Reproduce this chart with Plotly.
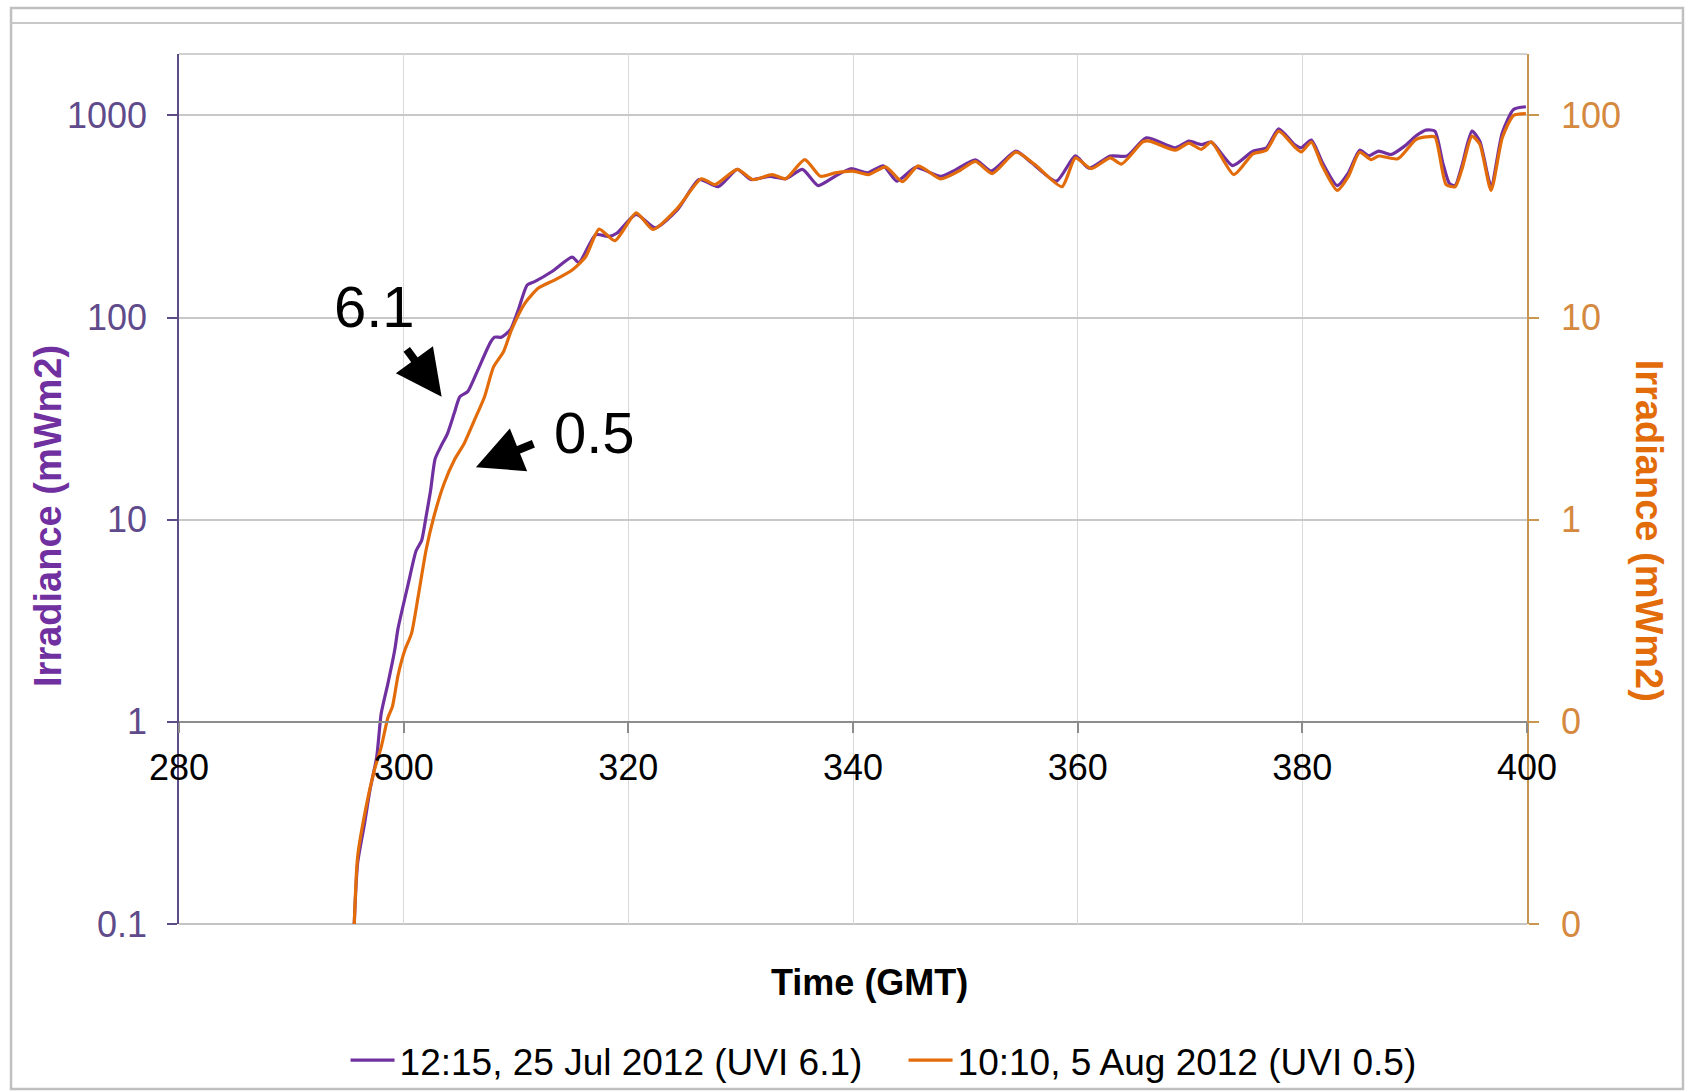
import numpy as np
import plotly.graph_objects as go

# ---------------- data ----------------
x_jul = [295.6, 295.9, 296.5, 297.0, 297.6, 298.0, 298.6, 299.2, 299.5, 300.4, 301.1, 301.6,
         302.0, 302.4, 302.8, 303.3, 303.9, 304.5, 305.0, 305.7, 306.6, 307.7, 308.1, 308.7,
         309.5, 310.2, 311.0, 311.7, 313.2, 315.0, 315.6, 317.1, 318.3, 319.0, 320.7, 322.4,
         324.4, 326.3, 328.0, 329.7, 330.9, 332.6, 334.0, 335.5, 336.9, 338.4, 339.8, 341.3,
         342.7, 343.9, 345.6, 347.8, 349.2, 350.9, 352.3, 354.5, 355.9, 358.1, 359.8, 361.0,
         362.9, 364.4, 366.1, 368.7, 369.9, 371.0, 371.9, 373.8, 375.6, 376.8, 377.9, 379.3,
         379.9, 380.8, 381.8, 383.1, 384.1, 385.1, 385.9, 386.8, 387.9, 389.1, 390.1, 391.0,
         391.8, 392.5, 393.1, 393.6, 394.2, 395.1, 395.8, 396.8, 397.8, 398.8, 399.9]
y_jul = [0.1, 0.2, 0.31, 0.46, 0.67, 1.1, 1.55, 2.26, 2.9, 4.8, 7.0, 7.9,
         10.4, 14.0, 20, 23, 26.7, 33.6, 40.6, 43, 55, 75, 80, 80,
         87, 109, 145, 151, 169, 199, 187, 257, 252, 262, 324, 278,
         343, 482, 444, 541, 482, 500, 486, 541, 450, 500, 545, 520,
         563, 473, 553, 500, 541, 603, 531, 666, 583, 473, 631, 548,
         630, 630, 775, 692, 746, 718, 738, 565, 666, 692, 859, 718,
         692, 755, 583, 450, 520, 673, 631, 666, 641, 705, 791, 846,
         836, 583, 460, 450, 562, 836, 746, 447, 820, 1071, 1104]

x_aug = [295.6, 295.9, 296.6, 297.4, 298.0, 298.6, 299.0, 299.5, 300.1, 300.7, 301.3, 302.0,
         302.7, 303.6, 304.5, 305.4, 306.3, 307.2, 308.0, 308.9, 309.6, 310.8, 312.0, 313.5,
         315.0, 316.2, 317.4, 318.8, 320.7, 322.2, 324.4, 326.5, 327.7, 329.7, 331.1, 332.8,
         334.0, 335.7, 337.1, 338.4, 340.0, 341.4, 342.9, 344.4, 345.8, 347.8, 349.4, 350.9,
         352.4, 354.5, 356.2, 358.6, 359.8, 361.2, 362.9, 363.9, 365.8, 366.4, 368.7, 369.9,
         371.0, 371.9, 373.9, 375.6, 376.8, 377.9, 379.3, 379.9, 380.8, 381.8, 383.1, 384.1,
         385.1, 386.1, 386.8, 388.5, 390.1, 391.0, 391.8, 392.8, 393.6, 394.2, 395.1, 395.8,
         396.8, 397.8, 398.8, 399.9]
y_aug = [0.01, 0.0215, 0.0366, 0.058, 0.075, 0.105, 0.119, 0.17, 0.226, 0.274, 0.42, 0.71,
         1.04, 1.51, 1.97, 2.39, 3.11, 4.06, 5.7, 6.8, 8.7, 11.8, 14.0, 15.4,
         17.2, 20.0, 27.4, 24.0, 33.0, 27.3, 34.9, 48.6, 45.5, 54.1, 48.2, 51.0,
         48.6, 60.5, 50.0, 52.0, 53.0, 51.0, 55.7, 47.0, 56.3, 48.6, 53.0, 59.3,
         51.6, 65.8, 57.1, 44.4, 61.7, 54.5, 61.7, 57.5, 74.1, 74.7, 67.3, 73.0,
         68.0, 73.8, 51.0, 64.6, 67.3, 83.6, 70.0, 66.0, 73.8, 56.0, 42.6, 50.0,
         65.8, 60.5, 63.0, 61.0, 76.0, 78.3, 78.3, 45.5, 44.4, 54.0, 79.0, 72.0,
         42.6, 77.6, 100.0, 102.0]

series_names = ["12:15, 25 Jul 2012 (UVI 6.1)", "10:10, 5 Aug 2012 (UVI 0.5)"]
x_ticks = [280, 300, 320, 340, 360, 380, 400]
left_ticks = [0.1, 1, 10, 100, 1000]
left_labels = ["0.1", "1", "10", "100", "1000"]
right_ticks = [0.01, 0.1, 1, 10, 100]
right_labels = ["0", "0", "1", "10", "100"]

# ---------------- style ----------------
PURPLE = "#7030A0"
ORANGE = "#E36C0A"
FONT = "Liberation Sans, Arial, sans-serif"

fig = go.Figure()
fig.add_trace(go.Scatter(x=x_jul, y=y_jul, name=series_names[0], mode="lines",
                         line=dict(color=PURPLE, width=3.2, shape="spline", smoothing=0.6),
                         yaxis="y"))
fig.add_trace(go.Scatter(x=x_aug, y=y_aug, name=series_names[1], mode="lines",
                         line=dict(color=ORANGE, width=3.2, shape="spline", smoothing=0.6),
                         yaxis="y2"))

yl_range = [-1, 3.304]
x_axis_pos = (0 - yl_range[0]) / (yl_range[1] - yl_range[0])

fig.update_layout(
    width=1692, height=1091,
    margin=dict(l=179, r=165, t=54, b=167, pad=0, autoexpand=False),
    plot_bgcolor="white", paper_bgcolor="white",
    font=dict(family=FONT, size=36, color="black"),
    showlegend=True,
    legend=dict(orientation="h", x=0.5375, xanchor="center", y=-0.157, yanchor="middle",
                font=dict(size=37, color="black"), bgcolor="rgba(0,0,0,0)",
                entrywidth=499, entrywidthmode="pixels", itemwidth=44, tracegroupgap=0),
    xaxis=dict(range=[280, 400], tickvals=x_ticks, anchor="free", position=x_axis_pos,
               showline=True, linecolor="#8C8C8C", linewidth=1.5,
               ticks="outside", ticklen=10, tickcolor="#8C8C8C", tickwidth=1.5,
               tickfont=dict(size=36, color="black"), ticklabelstandoff=4,
               showgrid=True, gridcolor="#D9D9D9", gridwidth=1.2, zeroline=False),
    yaxis=dict(type="log", range=yl_range, tickvals=left_ticks, ticktext=left_labels,
               showline=True, linecolor="#5E4C86", linewidth=1.5,
               ticks="outside", ticklen=10, tickcolor="#5E4C86", tickwidth=1.5,
               tickfont=dict(size=36, color="#5F4B8B"), ticklabelstandoff=13,
               showgrid=True, gridcolor="#C8C8C8", gridwidth=1.5, zeroline=False),
    yaxis2=dict(type="log", range=[yl_range[0] - 1, yl_range[1] - 1], overlaying="y",
                side="right", anchor="x", tickvals=right_ticks, ticktext=right_labels,
                showline=True, linecolor="#C9964F", linewidth=1.5,
                ticks="outside", ticklen=10, tickcolor="#C9964F", tickwidth=1.5,
                tickfont=dict(size=36, color="#D4893F"), ticklabelstandoff=15,
                showgrid=False, zeroline=False),
)

# frame and plot-area top border
fig.add_shape(type="rect", xref="paper", yref="paper", x0=-0.1246, x1=1.1157,
              y0=-0.1897, y1=1.0529, line=dict(color="#C0C0C0", width=2.5), layer="below")
fig.add_shape(type="line", xref="paper", yref="paper", x0=-0.1246, x1=1.1157,
              y0=1.0356, y1=1.0356, line=dict(color="#C8C8C8", width=2), layer="below")
fig.add_shape(type="line", xref="paper", yref="paper", x0=0, x1=1, y0=1, y1=1,
              line=dict(color="#C0C0C0", width=1.5), layer="below")
fig.add_shape(type="line", xref="paper", yref="paper", x0=0, x1=1, y0=0, y1=0,
              line=dict(color="#B0B0B0", width=1.5), layer="below")

# axis titles
fig.add_annotation(text="<b>Irradiance (mWm2)</b>", xref="paper", yref="paper",
                   x=-0.0972, y=0.469, xanchor="center", yanchor="middle",
                   textangle=-90, showarrow=False,
                   font=dict(size=38, color=PURPLE))
fig.add_annotation(text="<b>Irradiance (mWm2)</b>", xref="paper", yref="paper",
                   x=1.0905, y=0.452, xanchor="center", yanchor="middle",
                   textangle=90, showarrow=False,
                   font=dict(size=38, color=ORANGE))
fig.add_annotation(text="<b>Time (GMT)</b>", xref="paper", yref="paper",
                   x=0.5126, y=-0.0667, xanchor="center", yanchor="middle",
                   showarrow=False, font=dict(size=36, color="black"))

# UVI labels and arrows
fig.add_annotation(text="6.1", x=297.36, y=2.057, xref="x", yref="y", showarrow=False,
                   xanchor="center", yanchor="middle", font=dict(size=58, color="black"))
fig.add_annotation(text="0.5", x=317.03, y=1.433, xref="x", yref="y", showarrow=False,
                   xanchor="center", yanchor="middle", font=dict(size=58, color="black"))
fig.add_annotation(text="", x=303.38, y=1.608, xref="x", yref="y", showarrow=True,
                   ax=-36, ay=-49, arrowhead=2, arrowsize=1.15, arrowwidth=8,
                   arrowcolor="black", standoff=0)
fig.add_annotation(text="", x=306.43, y=1.26, xref="x", yref="y", showarrow=True,
                   ax=59, ay=-24, arrowhead=2, arrowsize=1.15, arrowwidth=8,
                   arrowcolor="black", standoff=0)

fig.write_html("out.html")
